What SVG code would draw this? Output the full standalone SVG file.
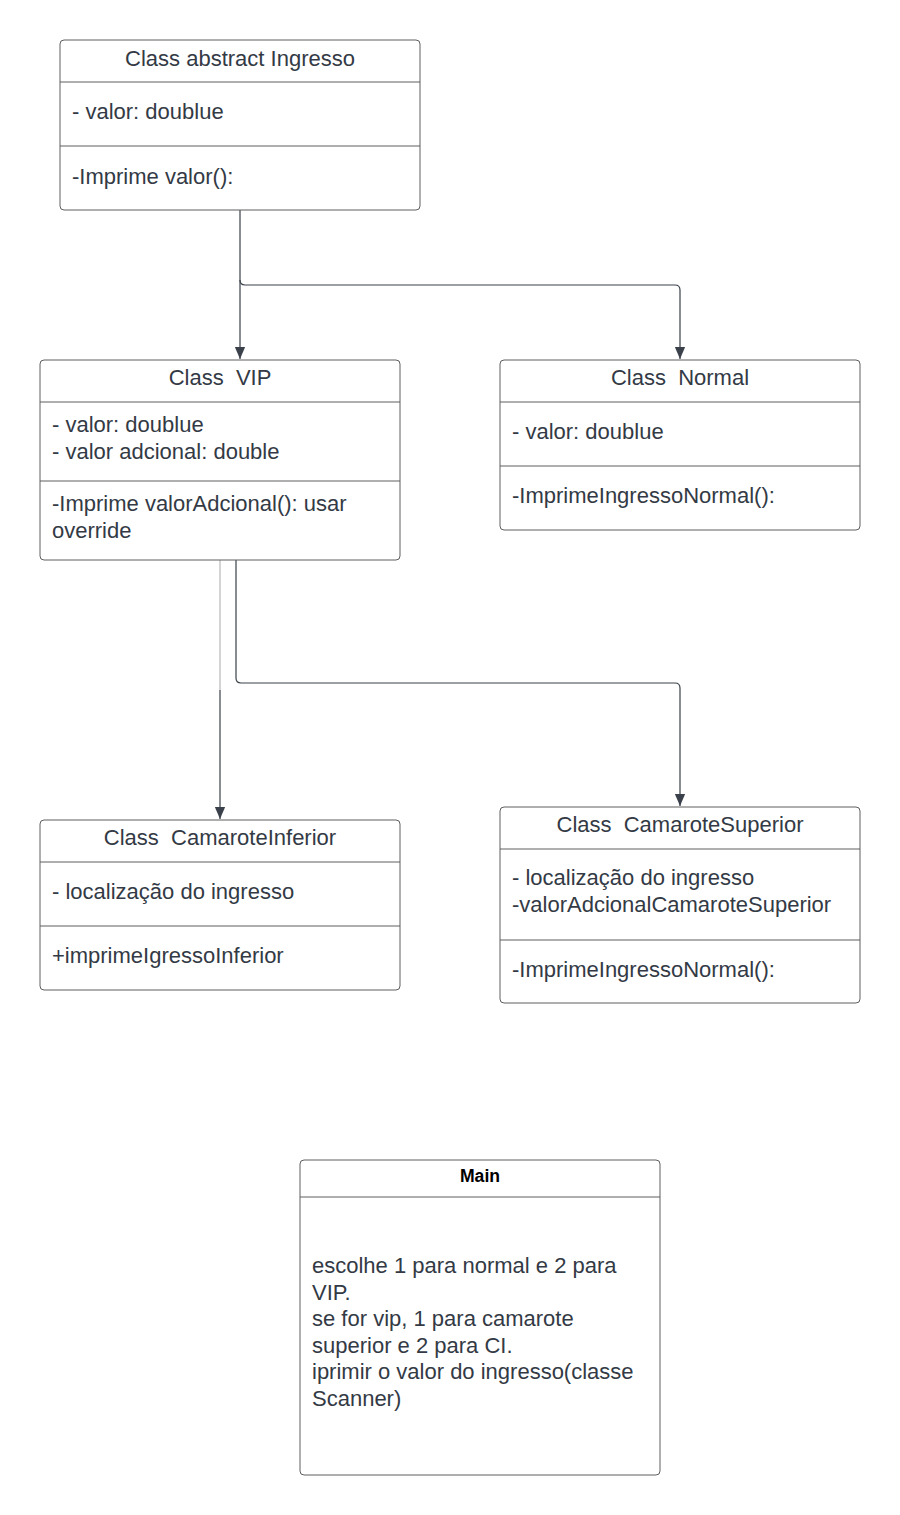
<svg xmlns="http://www.w3.org/2000/svg" width="900" height="1515" viewBox="0 0 900 1515">
<style>
.box{fill:#ffffff;stroke:#5e5e5e;stroke-width:1}
.div{stroke:#5e5e5e;stroke-width:1}
.t{font-family:"Liberation Sans",Arial,sans-serif;font-size:22px;fill:#333a45}
.c{text-anchor:middle}
.b{font-weight:bold;font-size:17.6px;fill:#000000}
.conn{fill:none;stroke:#3a414a;stroke-width:1.2}
</style>
<defs>
<marker id="ah" markerWidth="12" markerHeight="14" refX="14" refY="6" orient="auto" markerUnits="userSpaceOnUse" viewBox="0 0 14 12">
<path d="M0,0 L14,6 L0,12 Z" fill="#3a414a"/>
</marker>
</defs>
<g id="connectors">
<path class="conn" d="M240,210 V359" marker-end="url(#ah)"/>
<path class="conn" d="M240,280 Q240,285 245,285 H675 Q680,285 680,290 V359" marker-end="url(#ah)"/>
<path d="M220,560 V690" stroke="#b8b8b8" stroke-width="1.2" fill="none"/>
<path class="conn" d="M220,690 V819" marker-end="url(#ah)"/>
<path class="conn" d="M236,560 V678 Q236,683 241,683 H675 Q680,683 680,688 V806" marker-end="url(#ah)"/>
</g>
<g id="ingresso">
<rect class="box" x="60" y="40" width="360" height="170" rx="4"/>
<line class="div" x1="60" y1="82" x2="420" y2="82"/>
<line class="div" x1="60" y1="146" x2="420" y2="146"/>
<text class="t c" x="240" y="66">Class abstract Ingresso</text>
<text class="t" x="72" y="119">- valor: doublue</text>
<text class="t" x="72" y="184">-Imprime valor():</text>
</g>
<g id="vip">
<rect class="box" x="40" y="360" width="360" height="200" rx="4"/>
<line class="div" x1="40" y1="402" x2="400" y2="402"/>
<line class="div" x1="40" y1="481" x2="400" y2="481"/>
<text class="t c" x="220" y="385" xml:space="preserve">Class  VIP</text>
<text class="t" x="52" y="432">- valor: doublue</text>
<text class="t" x="52" y="459">- valor adcional: double</text>
<text class="t" x="52" y="511">-Imprime valorAdcional(): usar</text>
<text class="t" x="52" y="538">override</text>
</g>
<g id="normal">
<rect class="box" x="500" y="360" width="360" height="170" rx="4"/>
<line class="div" x1="500" y1="402" x2="860" y2="402"/>
<line class="div" x1="500" y1="466" x2="860" y2="466"/>
<text class="t c" x="680" y="385" xml:space="preserve">Class  Normal</text>
<text class="t" x="512" y="439">- valor: doublue</text>
<text class="t" x="512" y="503">-ImprimeIngressoNormal():</text>
</g>
<g id="camaroteInferior">
<rect class="box" x="40" y="820" width="360" height="170" rx="4"/>
<line class="div" x1="40" y1="862" x2="400" y2="862"/>
<line class="div" x1="40" y1="926" x2="400" y2="926"/>
<text class="t c" x="220" y="845" xml:space="preserve">Class  CamaroteInferior</text>
<text class="t" x="52" y="899">- localização do ingresso</text>
<text class="t" x="52" y="963">+imprimeIgressoInferior</text>
</g>
<g id="camaroteSuperior">
<rect class="box" x="500" y="807" width="360" height="196" rx="4"/>
<line class="div" x1="500" y1="849" x2="860" y2="849"/>
<line class="div" x1="500" y1="940" x2="860" y2="940"/>
<text class="t c" x="680" y="832" xml:space="preserve">Class  CamaroteSuperior</text>
<text class="t" x="512" y="885">- localização do ingresso</text>
<text class="t" x="512" y="912">-valorAdcionalCamaroteSuperior</text>
<text class="t" x="512" y="977">-ImprimeIngressoNormal():</text>
</g>
<g id="main">
<rect class="box" x="300" y="1160" width="360" height="315" rx="4"/>
<line class="div" x1="300" y1="1197" x2="660" y2="1197"/>
<text class="t c b" x="480" y="1182">Main</text>
<text class="t" x="312" y="1273">escolhe 1 para normal e 2 para</text>
<text class="t" x="312" y="1300">VIP.</text>
<text class="t" x="312" y="1326">se for vip, 1 para camarote</text>
<text class="t" x="312" y="1353">superior e 2 para CI.</text>
<text class="t" x="312" y="1379">iprimir o valor do ingresso(classe</text>
<text class="t" x="312" y="1406">Scanner)</text>
</g>
</svg>
